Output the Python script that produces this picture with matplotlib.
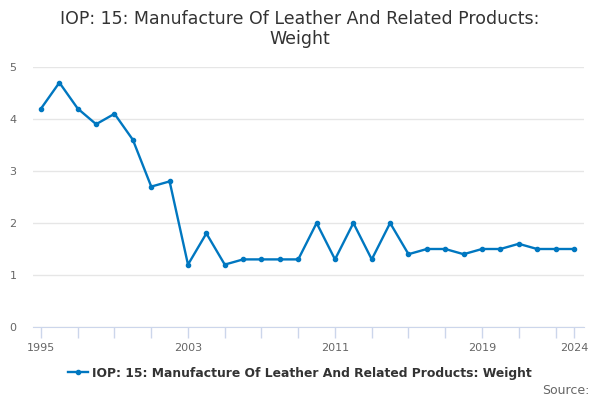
import matplotlib
matplotlib.use("Agg")
import matplotlib.pyplot as plt
from matplotlib.lines import Line2D

years = list(range(1995, 2025))
values = [4.2, 4.7, 4.2, 3.9, 4.1, 3.6, 2.7, 2.8, 1.2, 1.8,
          1.2, 1.3, 1.3, 1.3, 1.3, 2.0, 1.3, 2.0, 1.3, 2.0,
          1.4, 1.5, 1.5, 1.4, 1.5, 1.5, 1.6, 1.5, 1.5, 1.5]
label_years = [1995, 2003, 2011, 2019, 2024]
tick_years = list(range(1995, 2024, 2)) + [2024]
series_name = "IOP: 15: Manufacture Of Leather And Related Products: Weight"

line_color = "#0077c0"

fig = plt.figure(figsize=(6, 4), dpi=100)
ax = fig.add_axes([0.055, 0.1825, 0.918, 0.65])

ax.plot(years, values, color=line_color, linewidth=1.7, marker="o", markersize=3)

ax.set_xlim(1994.565, 2024.54)
ax.set_ylim(0, 5)
ax.set_yticks([0, 1, 2, 3, 4, 5])
ax.set_xticks(tick_years)
ax.set_xticklabels([str(y) if y in label_years else "" for y in tick_years])

ax.grid(axis="y", color="#e6e6e6", linewidth=1)
ax.set_axisbelow(True)
for side in ["top", "right", "left"]:
    ax.spines[side].set_visible(False)
ax.spines["bottom"].set_color("#ccd6eb")
ax.tick_params(axis="x", colors="#ccd6eb", length=8, width=1, labelcolor="#666666", labelsize=8)
ax.tick_params(axis="y", length=0, labelcolor="#666666", labelsize=8, pad=12)

fig.text(0.5, 0.975, "IOP: 15: Manufacture Of Leather And Related Products:\nWeight",
         ha="center", va="top", fontsize=12.5, color="#333333", linespacing=1.15)

handle = Line2D([], [], color=line_color, linewidth=1.7, marker="o", markersize=3)
fig.legend([handle], [series_name], loc="center", bbox_to_anchor=(0.5, 0.067),
           frameon=False, handlelength=1.6, handletextpad=0.4,
           prop={"weight": "bold", "size": 8.9}, labelcolor="#333333")

fig.text(0.982, 0.025, "Source:", ha="right", va="center", fontsize=9, color="#666666")

fig.savefig("out.png", dpi=100)
